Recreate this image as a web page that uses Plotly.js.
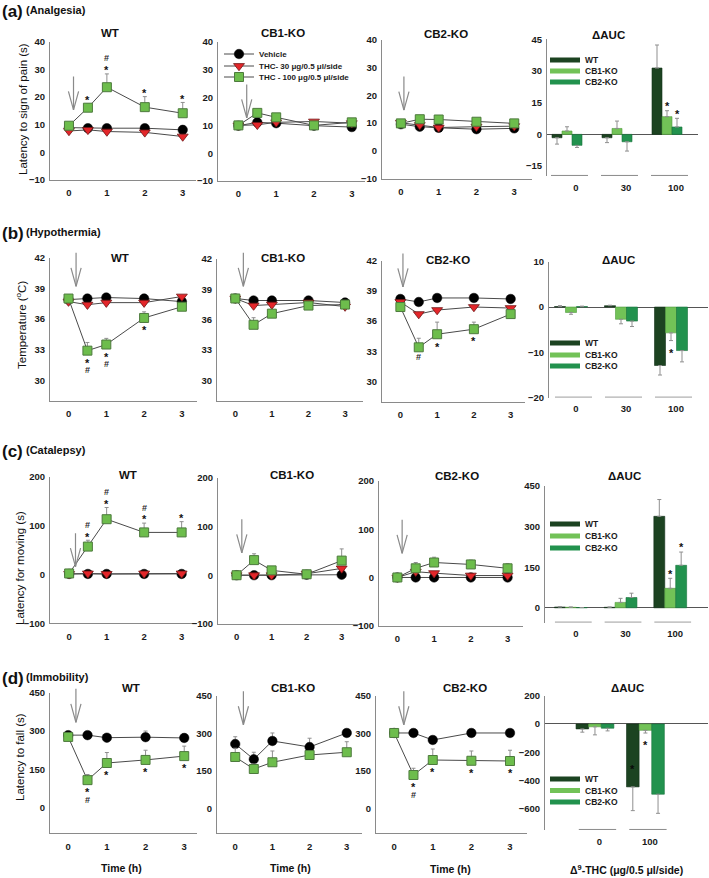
<!DOCTYPE html>
<html><head><meta charset="utf-8">
<script src="https://cdn.plot.ly/plotly-3.0.1.min.js"></script>
<style>html,body{margin:0;padding:0;background:#fff}#chart{width:709px;height:878px}</style>
</head><body><div id="chart"></div>
<script>
// ===================== DATA =====================
const timeH = [0, 0.5, 1, 2, 3];
const genotypes = ['WT', 'CB1-KO', 'CB2-KO'];
const doseNames = ['Vehicle', 'THC- 30 μg/0.5 μl/side', 'THC - 100 μg/0.5 μl/side'];
const aucDoses = ['0', '30', '100'];
const aucDosesImm = ['0', '100'];

// (a) Analgesia: latency to sign of pain (s); inner arrays = WT, CB1-KO, CB2-KO
const analgesiaVehicle = [[8.9, 8.7, 8.7, 8.7, 8.1], [9.9, 11.1, 10.8, 9.9, 9.4], [9.6, 8.7, 8.3, 7.8, 8.1]];
const analgesiaTHC30 = [[7.7, 8.1, 7.5, 7.2, 5.7], [10.0, 10.2, 11.1, 11.4, 10.8], [10.1, 9.3, 8.4, 8.7, 8.9]];
const analgesiaTHC100 = [[9.6, 16.1, 23.5, 16.3, 14.1], [10.0, 14.5, 12.9, 10.0, 11.1], [9.9, 11.4, 11.3, 10.5, 9.9]];
const analgesiaTHC100Err = [[0.6, 1.4, 4.8, 3.8, 3.9], [0.5, 0.8, 0.8, 0.5, 0.8], [0.4, 0.6, 0.6, 0.6, 0.5]];
const analgesiaSig = [['', '*', '#*', '*', '*'], ['', '', '', '', ''], ['', '', '', '', '']];

// (b) Hypothermia: temperature (oC)
const hypoVehicle = [[37.9, 38.0, 38.1, 38.0, 37.7], [38.1, 37.9, 37.9, 37.9, 37.7], [38.2, 37.9, 38.3, 38.3, 38.2]];
const hypoTHC30 = [[37.7, 37.4, 37.6, 37.6, 38.2], [38.1, 37.4, 37.5, 37.7, 37.3], [37.9, 36.7, 37.1, 37.4, 37.3]];
const hypoTHC100 = [[38.0, 32.9, 33.5, 36.1, 37.2], [38.1, 35.5, 36.6, 37.4, 37.5], [37.4, 33.4, 34.7, 35.2, 36.7]];
const hypoTHC100Err = [[0.2, 0.8, 0.6, 0.6, 0.3], [0.2, 0.7, 0.3, 0.2, 0.2], [0.2, 0.9, 1.2, 0.7, 0.3]];
const hypoSig = [['', '*#', '*#', '*', ''], ['', '', '', '', ''], ['', '#', '*', '*', '']];

// (c) Catalepsy: latency for moving (s)
const catVehicle = [[1, 1, 1, 1, 1], [0, 0, 0, 1, 1], [0, 0, 0, 0, 0]];
const catTHC30 = [[1, 2, 1, 2, 2], [0, 0, 0, 3, 14], [0, 12, 9, 4, 4]];
const catTHC100 = [[2, 57, 113, 86, 86], [0, 31, 10, 2, 30], [0, 19, 31, 27, 19]];
const catTHC100Err = [[2, 13, 24, 19, 22], [2, 13, 3, 2, 24], [3, 12, 11, 9, 10]];
const catSig = [['', '#*', '#*', '#*', '*'], ['', '', '', '', ''], ['', '', '', '', '']];

// (d) Immobility: latency to fall (s)
const immVehicle = [[284, 284, 274, 276, 273], [257, 196, 269, 245, 301], [301, 301, 273, 301, 301]];
const immVehicleErr = [[5, 6, 8, 24, 17], [29, 28, 32, 35, 11], [4, 4, 6, 4, 4]];
const immTHC100 = [[277, 108, 175, 187, 202], [205, 157, 184, 213, 224], [301, 133, 193, 190, 189]];
const immTHC100Err = [[5, 22, 41, 38, 39], [35, 20, 45, 16, 42], [5, 27, 44, 39, 43]];
const immSig = [['', '*#', '*', '*', '*'], ['', '', '', '', ''], ['', '*#', '*', '*', '*']];

// Delta AUC bars; inner arrays = doses
const aucAnalgesia = [[-1.6, -1.6, 31.4], [1.6, 2.8, 8.4], [-5.2, -3.5, 3.5]];
const aucAnalgesiaErr = [[3.0, 2.3, 10.9], [2.0, 3.5, 2.8], [1.0, 4.4, 4.1]];
const aucAnalgesiaSig = [['', '', ''], ['', '', '*'], ['', '', '*']];
const aucHypo = [[0.1, 0.3, -12.9], [-1.2, -2.7, -5.7], [0.1, -3.1, -9.6]];
const aucHypoErr = [[0.2, 0.1, 2.1], [0.4, 1.0, 1.7], [0.1, 1.2, 2.5]];
const aucHypoSig = [['', '', ''], ['', '', '*'], ['', '', '']];
const aucCat = [[3, 2, 338], [2, 20, 72], [1, 38, 157]];
const aucCatErr = [[1, 1, 62], [1, 15, 37], [0, 16, 49]];
const aucCatSig = [['', '', ''], ['', '', '*'], ['', '', '*']];
const aucImm = [[-35, -445], [-20, -45], [-30, -497]];
const aucImmErr = [[23, 168], [57, 19], [19, 135]];
const aucImmSig = [['', ''], ['', '*'], ['', '']];
const aucImmSigInside = [['', '*'], ['', ''], ['', '']];

// ===================== LAYOUT / STYLE =====================
const W = 709, H = 878;
const px = v => v / W;
const py = v => 1 - v / H;
const FONT = 'Arial, "Liberation Sans", sans-serif';
const AXC = '#8a8a8a';
const TICKFONT = {family: FONT, size: 9.5, color: '#1a1a1a', weight: 'bold'};
const ERRC = '#8f8f8f';
const genoColors = ['#1c4321', '#72c257', '#22924e'];
const genoEdge = ['#12301a', '#4f9a3c', '#17733c'];

const rowsLine = [
  {vals: [analgesiaVehicle, analgesiaTHC30, analgesiaTHC100], err: [null, null, analgesiaTHC100Err], sig: analgesiaSig, dir: 'up',
   yr: [-10, 40], yt: [-10, 0, 10, 20, 30, 40],
   geom: [{x: [50, 196], y: [41.5, 180], xr: [-0.50, 3.35]}, {x: [218, 365], y: [42, 181], xr: [-0.54, 3.35]}, {x: [382, 532], y: [40, 178.5], xr: [-0.50, 3.47]}],
   arrows: [[0.12, 15.3], [0.22, 12.7], [0.08, 14.7]]},
  {vals: [hypoVehicle, hypoTHC30, hypoTHC100], err: [null, null, hypoTHC100Err], sig: hypoSig, dir: 'down',
   yr: [28, 42], yt: [30, 33, 36, 39, 42],
   geom: [{x: [50, 197], y: [257.7, 400.7], xr: [-0.49, 3.40]}, {x: [217, 363], y: [259, 400.7], xr: [-0.50, 3.49]}, {x: [382, 525], y: [260.7, 401.7], xr: [-0.50, 3.39]}],
   arrows: [[0.2, 39.2], [0.22, 39.3], [0.07, 39.4]]},
  {vals: [catVehicle, catTHC30, catTHC100], err: [null, null, catTHC100Err], sig: catSig, dir: 'up',
   yr: [-100, 200], yt: [-100, 0, 100, 200],
   geom: [{x: [50, 197], y: [476.7, 623.3], xr: [-0.51, 3.41]}, {x: [218, 362], y: [477.7, 624], xr: [-0.53, 3.58]}, {x: [379, 523], y: [481, 625.7], xr: [-0.50, 3.42]}],
   arrows: [[0.17, 15.8], [0.15, 46], [0.13, 50]]},
  {vals: [immVehicle, null, immTHC100], err: [immVehicleErr, null, immTHC100Err], sig: immSig, dir: 'down',
   yr: [-100, 450], yt: [0, 150, 300, 450],
   geom: [{x: [50, 197], y: [692.7, 833.3], xr: [-0.47, 3.33]}, {x: [217, 362], y: [695.7, 833.3], xr: [-0.49, 3.41]}, {x: [376, 527], y: [695.7, 833.3], xr: [-0.47, 3.44]}],
   arrows: [[0.2, 334], [0.22, 334], [0.25, 334]]}
];

const rowsAuc = [
  {cats: aucDoses, vals: aucAnalgesia, err: aucAnalgesiaErr, sig: aucAnalgesiaSig, inside: null,
   geom: {x: [547, 698], y: [39.3, 176]}, xr: [-0.40, 2.62], yr: [-19.7, 45], yt: [-15, 0, 15, 30, 45], lab: 0.18, bw: 0.2, leg: [60, 71, 82]},
  {cats: aucDoses, vals: aucHypo, err: aucHypoErr, sig: aucHypoSig, inside: null,
   geom: {x: [549, 708], y: [261.7, 397.7]}, xr: [-0.44, 2.74], yr: [-20, 10], yt: [-20, -10, 0, 10], lab: 0.1, bw: 0.22, leg: [343, 355, 366]},
  {cats: aucDoses, vals: aucCat, err: aucCatErr, sig: aucCatSig, inside: null,
   geom: {x: [545, 708], y: [486, 622.7]}, xr: [-0.52, 2.76], yr: [-55, 450], yt: [0, 150, 300, 450], lab: 0.1, bw: 0.22, leg: [524, 536, 548]},
  {cats: aucDosesImm, vals: aucImm, err: aucImmErr, sig: aucImmSig, inside: aucImmSigInside,
   geom: {x: [545, 708], y: [695.7, 830]}, xr: [-0.99, 2.24], yr: [-750, 200], yt: [-600, -400, -200, 0, 200], lab: 0.09, bw: 0.25, leg: [779, 790.5, 802]}
];
const lineLegendY = [54, 66, 77];

const markerStyles = [
  {symbol: 'circle', size: 9.5, color: '#000000', line: {color: '#000000', width: 0.5}},
  {symbol: 'triangle-down', size: 9.5, color: '#e3262a', line: {color: '#6e1414', width: 0.8}},
  {symbol: 'square', size: 9, color: '#6dbd4c', line: {color: '#4d7a3d', width: 1}}
];

const traces = [];
const annotations = [];
const shapes = [];
const layout = {
  width: W, height: H, margin: {l: 0, r: 0, t: 0, b: 0},
  paper_bgcolor: '#fff', plot_bgcolor: '#fff',
  font: {family: FONT, color: '#1a1a1a'},
  showlegend: true, hovermode: false,
  barmode: 'overlay'
};
function legendAt(xp, yp, size) {
  return {x: px(xp), y: py(yp), xanchor: 'left', yanchor: 'middle', bgcolor: 'rgba(0,0,0,0)',
          font: {family: FONT, size: size, weight: 'bold', color: '#1a1a1a'}, itemwidth: 30, tracegroupgap: 0};
}
const lineLegendIds = ['legend', 'legend2', 'legend3'];
lineLegendIds.forEach((id, d) => { layout[id] = legendAt(219, lineLegendY[d], 8); });

const sfx = p => (p === 0 ? '' : String(p + 1));
const SIGSTAR = {family: FONT, size: 11, weight: 'bold', color: '#111'};
const SIGHASH = {family: FONT, size: 9, weight: 'bold', color: '#2a2a2a'};

function addArrow(s, x, y) {
  const base = {xref: 'x' + s, yref: 'y' + s, x: x, y: y, text: '', showarrow: true, arrowhead: 0,
                arrowwidth: 1.2, arrowcolor: '#8a8a8a', standoff: 0, startstandoff: 0};
  annotations.push(Object.assign({}, base, {ax: 0, ay: -35}));
  annotations.push(Object.assign({}, base, {ax: -5.5, ay: -20}));
  annotations.push(Object.assign({}, base, {ax: 5.5, ay: -20}));
}

// ---------- line panels ----------
rowsLine.forEach((row, r) => {
  for (let c = 0; c < 3; c++) {
    const p = r * 4 + c, s = sfx(p), g = row.geom[c];
    layout['xaxis' + s] = {domain: [px(g.x[0]), px(g.x[1])], range: g.xr, anchor: 'y' + s,
      tickvals: [0, 1, 2, 3], showline: true, linecolor: AXC, linewidth: 1, ticks: '', showgrid: false,
      zeroline: false, tickfont: TICKFONT, fixedrange: true, ticklabelstandoff: 4};
    layout['yaxis' + s] = {domain: [py(g.y[1]), py(g.y[0])], range: row.yr, anchor: 'x' + s,
      tickvals: row.yt, showline: true, linecolor: AXC, linewidth: 1, ticks: '', showgrid: false,
      zeroline: false, tickfont: TICKFONT, fixedrange: true, ticklabelstandoff: 2};
    row.vals.forEach((set, d) => {
      if (!set) return;
      const err = row.err[d];
      const tr = {type: 'scatter', mode: 'lines+markers', x: timeH, y: set[c], xaxis: 'x' + s, yaxis: 'y' + s,
        name: doseNames[d], showlegend: p === 0, legend: lineLegendIds[d], line: {color: '#4a4a4a', width: 1},
        marker: markerStyles[d], cliponaxis: false};
      if (err) {
        tr.error_y = {type: 'data', symmetric: false, array: err[c], arrayminus: err[c].map(() => 0),
                      color: ERRC, thickness: 1, width: 2};
      }
      traces.push(tr);
    });
    // significance marks
    const means = row.vals[2][c], errs = row.err[2][c];
    row.sig[c].forEach((str, k) => {
      const chars = [...str], n = chars.length;
      chars.forEach((ch, j) => {
        let yv, shift;
        if (row.dir === 'up') { yv = means[k] + errs[k]; shift = 6 + (n - 1 - j) * 9.5; }
        else { yv = means[k]; shift = -(10 + j * 9.5); }
        if (ch === '*') shift -= 2.3;
        annotations.push({xref: 'x' + s, yref: 'y' + s, x: timeH[k], y: yv, yshift: shift, text: ch,
          showarrow: false, font: ch === '*' ? SIGSTAR : SIGHASH, xanchor: 'center', yanchor: 'middle'});
      });
    });
    addArrow(s, row.arrows[c][0], row.arrows[c][1]);
  }
});

// ---------- delta AUC panels ----------
rowsAuc.forEach((row, r) => {
  const p = r * 4 + 3, s = sfx(p), g = row.geom;
  const idx = row.cats.map((_, i) => i);
  layout['xaxis' + s] = {domain: [px(g.x[0]), px(g.x[1])], range: row.xr, anchor: 'y' + s,
    tickvals: idx.map(i => i + row.lab), ticktext: row.cats, showline: false, ticks: '', showgrid: false,
    zeroline: false, tickfont: TICKFONT, fixedrange: true, ticklabelstandoff: 4};
  layout['yaxis' + s] = {domain: [py(g.y[1]), py(g.y[0])], range: row.yr, anchor: 'x' + s,
    tickvals: row.yt, showline: true, linecolor: AXC, linewidth: 1, ticks: '', showgrid: false,
    zeroline: true, zerolinecolor: '#555', zerolinewidth: 1, tickfont: TICKFONT, fixedrange: true, ticklabelstandoff: 2};
  genotypes.forEach((gName, gi) => {
    const v = row.vals[gi], e = row.err[gi];
    const legName = 'legend' + (4 + r * 3 + gi);
    layout[legName] = legendAt(545, row.leg[gi], 8.5);
    traces.push({type: 'bar', x: idx, y: v, xaxis: 'x' + s, yaxis: 'y' + s, name: gName, showlegend: false,
      width: row.bw, offset: -1.5 * row.bw + gi * row.bw,
      marker: {color: genoColors[gi], line: {width: 0.6, color: genoEdge[gi]}},
      error_y: {type: 'data', symmetric: false, array: v.map((val, i) => val >= 0 ? e[i] : 0),
                arrayminus: v.map((val, i) => val < 0 ? e[i] : 0), color: ERRC, thickness: 1, width: 2}});
    // legend swatch
    traces.push({type: 'scatter', mode: 'lines', x: [null], y: [null], xaxis: 'x' + s, yaxis: 'y' + s,
      name: gName, legend: legName, showlegend: true, line: {color: genoColors[gi], width: 5}});
    // significance
    row.sig[gi].forEach((ch, i) => {
      if (!ch) return;
      const sign = v[i] >= 0 ? 1 : -1;
      let shift = sign > 0 ? 7 : -10;
      if (ch === '*') shift -= 2.3;
      annotations.push({xref: 'x' + s, yref: 'y' + s, x: i + (gi - 1) * row.bw, y: v[i] + sign * e[i],
        yshift: shift, text: ch, showarrow: false, font: SIGSTAR, xanchor: 'center', yanchor: 'middle'});
    });
    if (row.inside) {
      row.inside[gi].forEach((ch, i) => {
        if (!ch) return;
        annotations.push({xref: 'x' + s, yref: 'y' + s, x: i + (gi - 1) * row.bw, y: v[i],
          yshift: 20 - 2.3, text: ch, showarrow: false, font: {family: FONT, size: 11, weight: 'bold', color: '#0a0a0a'},
          xanchor: 'center', yanchor: 'middle'});
      });
    }
  });
  // group underline segments
  const yb = row.yr[0] + 0.004 * (row.yr[1] - row.yr[0]);
  idx.forEach(i => {
    shapes.push({type: 'line', xref: 'x' + s, yref: 'y' + s, x0: i - 0.32, x1: i + 0.42, y0: yb, y1: yb,
      line: {color: AXC, width: 1}});
  });
});

// ---------- text labels ----------
const rowLabels = [['(a)', '(Analgesia)', 12, 10.5], ['(b)', '(Hypothermia)', 233, 232], ['(c)', '(Catalepsy)', 451, 450], ['(d)', '(Immobility)', 678, 677]];
rowLabels.forEach(([a, b, ya, yb]) => {
  annotations.push({xref: 'paper', yref: 'paper', x: px(0), y: py(ya), xanchor: 'left', yanchor: 'middle', showarrow: false,
    text: a, font: {family: FONT, size: 17, weight: 'bold', color: '#111'}});
  annotations.push({xref: 'paper', yref: 'paper', x: px(24), y: py(yb), xanchor: 'left', yanchor: 'middle', showarrow: false,
    text: b, font: {family: FONT, size: 11, weight: 'bold', color: '#111'}});
});
const panelTitlePos = [
  [[110, 33], [283, 33], [446, 34], [608, 35]],
  [[120, 258], [283, 258], [448, 260], [618, 260]],
  [[128, 475], [292, 475], [457, 476], [624, 476]],
  [[131, 688], [293, 688], [465, 688], [627, 688]]
];
const panelTitleText = ['WT', 'CB1-KO', 'CB2-KO', 'ΔAUC'];
panelTitlePos.forEach(row => row.forEach(([x, y], c) => {
  annotations.push({xref: 'paper', yref: 'paper', x: px(x), y: py(y), xanchor: 'center', yanchor: 'middle', showarrow: false,
    text: panelTitleText[c], font: {family: FONT, size: 11.5, weight: 'bold', color: '#111'}});
}));
const yTitles = [['Latency to sign of pain (s)', 23, 109], ['Temperature (<sup>o</sup>C)', 21, 325],
                 ['Latency for moving (s)', 20, 568], ['Latency to fall (s)', 20, 757]];
yTitles.forEach(([t, x, y]) => {
  annotations.push({xref: 'paper', yref: 'paper', x: px(x), y: py(y), xanchor: 'center', yanchor: 'middle', showarrow: false,
    textangle: -90, text: t, font: {family: FONT, size: 11.5, color: '#111'}});
});
[[121, 868], [290, 868], [450, 869]].forEach(([x, y]) => {
  annotations.push({xref: 'paper', yref: 'paper', x: px(x), y: py(y), xanchor: 'center', yanchor: 'middle', showarrow: false,
    text: 'Time (h)', font: {family: FONT, size: 10.5, weight: 'bold', color: '#111'}});
});
annotations.push({xref: 'paper', yref: 'paper', x: px(626), y: py(869), xanchor: 'center', yanchor: 'middle', showarrow: false,
  text: 'Δ<sup>9</sup>-THC (μg/0.5 μl/side)', font: {family: FONT, size: 10.5, weight: 'bold', color: '#111'}});

layout.annotations = annotations;
layout.shapes = shapes;

Plotly.newPlot('chart', traces, layout, {staticPlot: true, displayModeBar: false});
</script>
</body></html>
